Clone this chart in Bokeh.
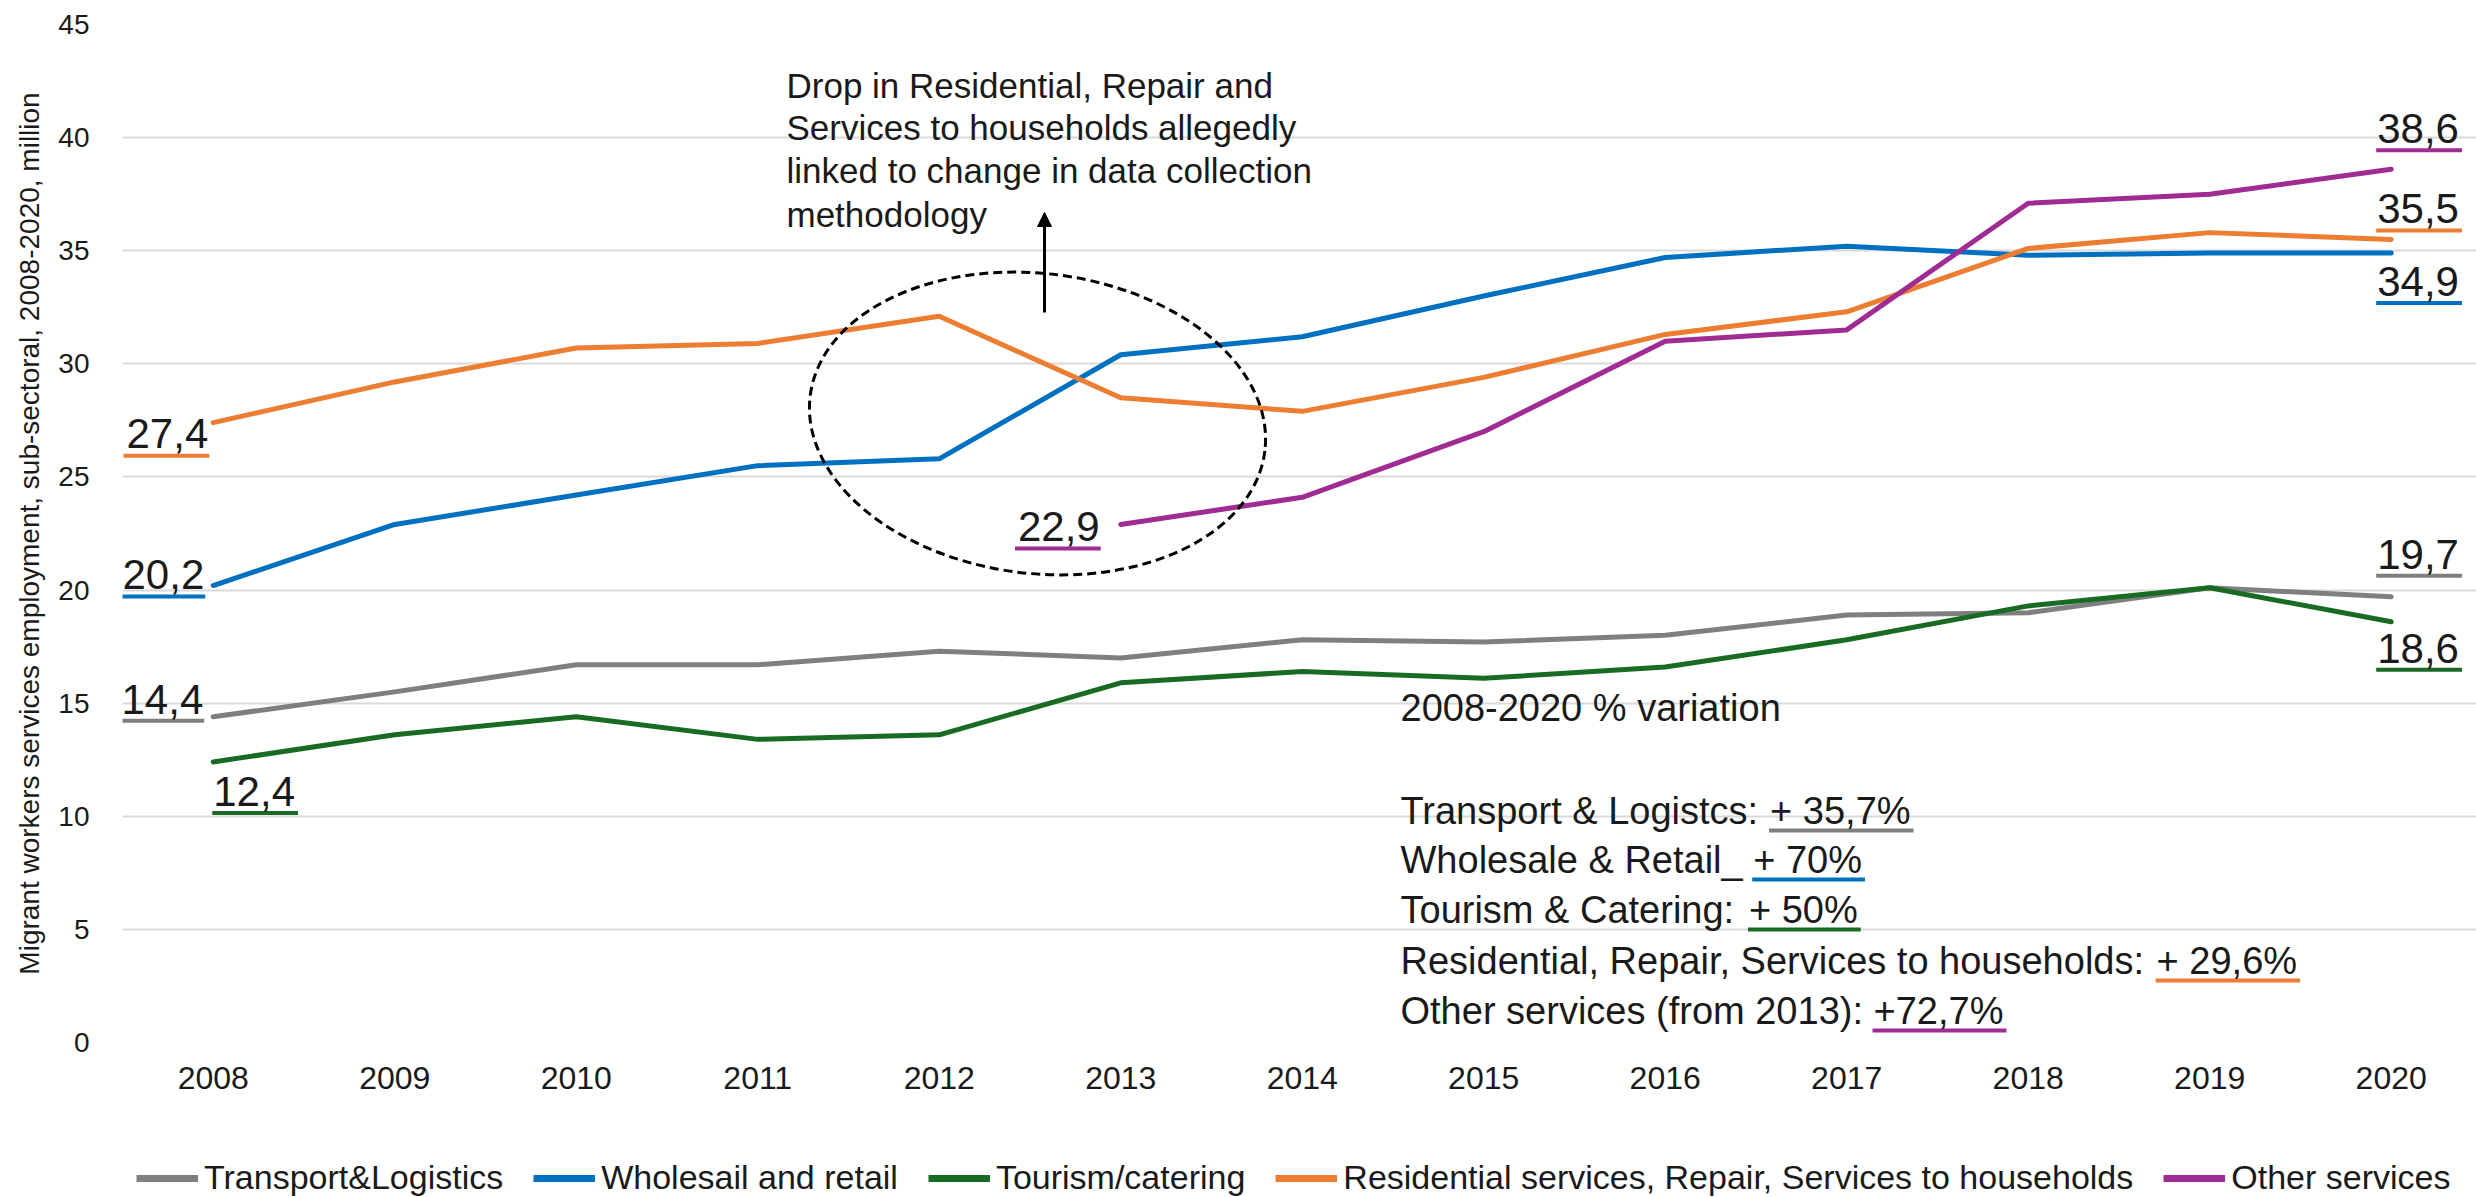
import numpy as np
from bokeh.plotting import figure
from bokeh.layouts import column
from bokeh.models import (Label, Legend, LegendItem, FixedTicker, Arrow,
                          NormalHead, Range1d)
from bokeh.embed import file_html
from bokeh.resources import INLINE

# ---------------- data ----------------
years = [2008, 2009, 2010, 2011, 2012, 2013, 2014, 2015, 2016, 2017, 2018, 2019, 2020]
transport = [14.4, 15.5, 16.7, 16.7, 17.3, 17.0, 17.8, 17.7, 18.0, 18.9, 19.0, 20.1, 19.7]
wholesale = [20.2, 22.9, 24.2, 25.5, 25.8, 30.4, 31.2, 33.0, 34.7, 35.2, 34.8, 34.9, 34.9]
tourism = [12.4, 13.6, 14.4, 13.4, 13.6, 15.9, 16.4, 16.1, 16.6, 17.8, 19.3, 20.1, 18.6]
residential = [27.4, 29.2, 30.7, 30.9, 32.1, 28.5, 27.9, 29.4, 31.3, 32.3, 35.1, 35.8, 35.5]
other = [None, None, None, None, None, 22.9, 24.1, 27.0, 31.0, 31.5, 37.1, 37.5, 38.6]
y_ticks = [0, 5, 10, 15, 20, 25, 30, 35, 40, 45]

series_names = ["Transport&Logistics", "Wholesail and retail", "Tourism/catering",
                "Residential services, Repair, Services to households", "Other services"]
series_colors = ["#7F7F7F", "#0070C0", "#196B24", "#ED7D31", "#A02B93"]

y_title = "Migrant workers services employment, sub-sectoral, 2008-2020, million"
note_lines = ["Drop in  Residential, Repair and",
              "Services to households allegedly",
              "linked to  change in  data collection",
              "methodology"]
variation_title = "2008-2020 % variation"
variation_prefix = ["Transport & Logistcs: ", "Wholesale & Retail_ ", "Tourism & Catering: ",
                    "Residential, Repair, Services to households: ", "Other services (from 2013): "]
variation_value = ["+ 35,7%", "+ 70%", "+ 50%", "+ 29,6%", "+72,7%"]

# ---------------- layout ----------------
W = 2476
H_MAIN, H_LEG = 1137, 60
LEFT, TOP, RIGHT, BOTTOM = 122, 24, 0, 95
X0, X1 = 2007.5, 2020.47
Y0, Y1 = 0, 45
FW = W - LEFT - RIGHT
FH = H_MAIN - TOP - BOTTOM
PXX = FW / (X1 - X0)
PXY = FH / (Y1 - Y0)
FONT = "Liberation Sans"
TXT = "#1a1a1a"


def dx(px):
    return px / PXX


def dy(px):
    return px / PXY


def sx2x(px):
    return X0 + (px - LEFT) / PXX


def sy2y(py):
    return Y1 - (py - TOP) / PXY


AW = {' ': 278, ',': 278, '.': 278, ':': 278, '+': 584, '%': 889, '&': 667, '_': 556,
      '(': 333, ')': 333, '-': 333, '/': 278,
      'a': 556, 'b': 556, 'c': 500, 'd': 556, 'e': 556, 'f': 278, 'g': 556, 'h': 556,
      'i': 222, 'j': 222, 'k': 500, 'l': 222, 'm': 833, 'n': 556, 'o': 556, 'p': 556,
      'q': 556, 'r': 333, 's': 500, 't': 278, 'u': 556, 'v': 500, 'w': 722, 'x': 500,
      'y': 500, 'z': 500,
      'C': 722, 'L': 556, 'O': 778, 'R': 722, 'S': 667, 'T': 611, 'W': 944}


def tw(s, size):
    return sum(AW.get(c, 556) for c in s) / 1000.0 * size


def fmt(v):
    return ("%.1f" % v).replace(".", ",")


def text_at(xpx_or_x, baseline_y, text, size, align="left", data_x=False):
    """Label whose alphabetic baseline sits at baseline_y (data units)."""
    x = xpx_or_x if data_x else sx2x(xpx_or_x)
    return Label(x=x, y=baseline_y + dy(0.35 * size), text=text, text_font=FONT,
                 text_font_size="%dpx" % size, text_color=TXT, text_align=align,
                 text_baseline="middle")


p = figure(width=W, height=H_MAIN, x_range=Range1d(X0, X1), y_range=Range1d(Y0, Y1),
           output_backend="svg", toolbar_location=None,
           min_border_left=LEFT, min_border_right=RIGHT,
           min_border_top=TOP, min_border_bottom=BOTTOM,
           outline_line_color=None, background_fill_color="white",
           border_fill_color="white")

p.xgrid.visible = False
p.ygrid.grid_line_color = "#D9D9D9"
p.ygrid.grid_line_width = 2
p.ygrid.ticker = FixedTicker(ticks=y_ticks)

p.xaxis.ticker = FixedTicker(ticks=years)
p.yaxis.ticker = FixedTicker(ticks=y_ticks)
for ax in (p.xaxis[0], p.yaxis[0]):
    ax.axis_line_color = None
    ax.major_tick_line_color = None
    ax.minor_tick_line_color = None
    ax.major_tick_out = 0
    ax.major_tick_in = 0
    ax.minor_tick_out = 0
    ax.major_label_text_font = FONT
    ax.major_label_text_color = TXT
p.xaxis.major_label_text_font_size = "32px"
p.xaxis.major_label_standoff = 24
p.yaxis.major_label_text_font_size = "28px"
p.yaxis.major_label_standoff = 33
p.yaxis.axis_label = y_title
p.yaxis.axis_label_text_font = FONT
p.yaxis.axis_label_text_font_size = "28px"
p.yaxis.axis_label_text_font_style = "normal"
p.yaxis.axis_label_text_color = TXT
p.yaxis.axis_label_standoff = 10

# ---------------- series ----------------
all_series = [transport, wholesale, tourism, residential, other]
series_y = []
for vals, col in zip(all_series, series_colors):
    yv = np.array([np.nan if v is None else v for v in vals], dtype=float)
    series_y.append(yv)
    p.line(years, yv, line_color=col, line_width=5, line_join="round", line_cap="round")

# ---------------- underlined value labels ----------------
LBL = 42
# (series index, point index, align, x offset px, baseline offset px downward)
label_specs = [
    (3, 0, "right", -5, 26), (1, 0, "right", -9, 4), (0, 0, "right", -10, -3),
    (2, 0, "left", 0, 44), (4, 5, "right", -21, 17),
    (4, 12, "left", -14, -26), (3, 12, "left", -14, -16), (1, 12, "left", -14, 43),
    (0, 12, "left", -14, -28), (2, 12, "left", -14, 41),
]
for si, pi, align, xo, yo in label_specs:
    v = all_series[si][pi]
    txt = fmt(v)
    x = years[pi] + dx(xo)
    yb = v - dy(yo)
    p.add_layout(text_at(x, yb, txt, LBL, align=align, data_x=True))
    w = tw(txt, LBL) + 3
    if align == "right":
        xa, xb = x - dx(w), x + dx(1)
    else:
        xa, xb = x - dx(1), x + dx(w)
    yu = yb - dy(7)
    p.segment(x0=[xa], y0=[yu], x1=[xb], y1=[yu], line_color=series_colors[si], line_width=4)

# ---------------- note with ellipse and arrow ----------------
NOTE = 35
note_base = [97, 139, 182, 226]
for line, b in zip(note_lines, note_base):
    p.add_layout(text_at(786, sy2y(b), line, NOTE))

p.ellipse(x=[sx2x(1037)], y=[sy2y(423)], width=[458], height=[300],
          width_units="screen", height_units="screen", angle=-0.12,
          fill_alpha=0, line_color="black", line_dash="9 5", line_width=3)

p.add_layout(Arrow(end=NormalHead(size=14, fill_color="black", line_color="black"),
                   x_start=sx2x(1044), y_start=sy2y(312), x_end=sx2x(1044), y_end=sy2y(212),
                   line_color="black", line_width=3))

# ---------------- variation block ----------------
VAR = 38
VX = 1400
p.add_layout(text_at(VX, sy2y(721), variation_title, VAR))
var_base = [824, 873, 923, 974, 1024]
for pre, val, b, col in zip(variation_prefix, variation_value, var_base, series_colors):
    p.add_layout(text_at(VX, sy2y(b), pre, VAR))
    x_val = VX + tw(pre, VAR)
    p.add_layout(text_at(x_val, sy2y(b), val, VAR))
    wv = tw(val, VAR)
    p.segment(x0=[sx2x(x_val - 1)], y0=[sy2y(b + 6)], x1=[sx2x(x_val + wv + 3)], y1=[sy2y(b + 6)],
              line_color=col, line_width=4)

# ---------------- legend strip (series drawn out of view, only the legend shows) ----------------
pl = figure(width=W, height=H_LEG, x_range=Range1d(0, 1), y_range=Range1d(0, 1),
            output_backend="svg", toolbar_location=None, min_border=0,
            x_axis_location=None, y_axis_location=None, outline_line_color=None,
            background_fill_color="white", border_fill_color="white")
pl.xgrid.visible = False
pl.ygrid.visible = False
leg_items = []
for n, col, yv in zip(series_names, series_colors, series_y):
    r = pl.line(years, yv, line_color=col, line_width=7)
    leg_items.append(LegendItem(label=n, renderers=[r]))
legend = Legend(items=leg_items, orientation="horizontal", location=(14, 0),
                label_text_font=FONT, label_text_font_size="34px", label_text_color=TXT,
                glyph_width=62, glyph_height=38, label_standoff=6, spacing=30,
                padding=0, margin=0, border_line_color=None, background_fill_alpha=0)
pl.add_layout(legend)

open("out.html", "w").write(file_html(column(p, pl, spacing=0), INLINE))
